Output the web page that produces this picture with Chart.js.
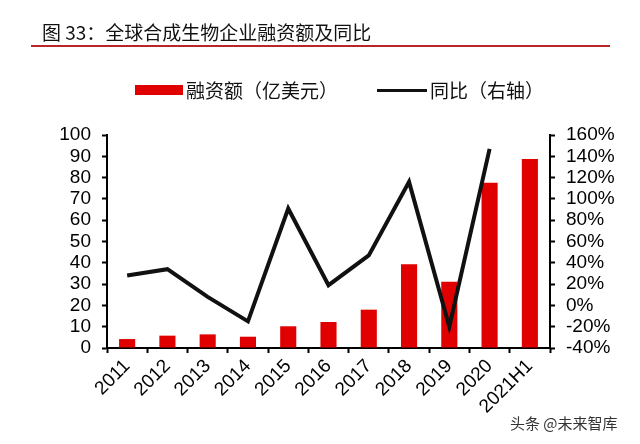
<!DOCTYPE html>
<html>
<head>
<meta charset="utf-8">
<script src="https://cdn.jsdelivr.net/npm/chart.js@4"></script>
<style>
  body { margin: 0; background: #fff; }
  #wrap { position: relative; width: 640px; height: 444px; overflow: hidden; }
  #myChart { position: absolute; left: 0; top: 0; }
  #title { position: absolute; left: 42px; top: 20px; font: 19px "Noto Sans CJK SC", sans-serif; color: #111; line-height: 24px; }
  #rule { position: absolute; left: 31px; top: 45px; width: 579px; height: 2px; background: #b8262b; }
  .leg { position: absolute; top: 78px; font: 19px "Noto Sans CJK SC", sans-serif; color: #111; line-height: 24px; }
  .swatch { position: absolute; }
  #mark { position: absolute; left: 510px; top: 412px; font: 15px "Noto Sans CJK SC", sans-serif; color: #333; }
</style>
</head>
<body>
<div id="wrap">
  <canvas id="myChart" width="640" height="444"></canvas>
  <div id="title">图 33：全球合成生物企业融资额及同比</div>
  <div id="rule"></div>
  <div class="swatch" style="left:135px;top:85px;width:48px;height:10px;background:#e00000"></div>
  <div class="leg" style="left:186px">融资额（亿美元）</div>
  <div class="swatch" style="left:377px;top:89px;width:50px;height:3px;background:#111"></div>
  <div class="leg" style="left:430px">同比（右轴）</div>
  <div id="mark">头条 @未来智库</div>
</div>
<script>
// values
const years = ['2011', '2012', '2013', '2014', '2015', '2016', '2017', '2018', '2019', '2020', '2021H1'];
const funding = [4.2, 5.8, 6.4, 5.3, 10.2, 12.2, 18, 39.3, 31.1, 77.6, 88.7];
const yoy = [28, 34, 8, -15, 91, 19, 47, 116, -20, 147, null];

const tickFont = { family: 'Liberation Sans, Arial, sans-serif', size: 19 };

const ctx = document.getElementById('myChart').getContext('2d');
const myChart = new Chart(ctx, {
    data: {
        labels: years,
        datasets: [{
            type: 'line',
            label: '同比（右轴）',
            data: yoy,
            yAxisID: 'y1',
            borderColor: '#111',
            borderWidth: 4,
            pointRadius: 0,
            tension: 0,
            order: 0
        }, {
            type: 'bar',
            label: '融资额（亿美元）',
            data: funding,
            yAxisID: 'y',
            backgroundColor: '#e00000',
            categoryPercentage: 0.8,
            barPercentage: 0.5,
            order: 1
        }]
    },
    options: {
        responsive: false,
        animation: false,
        layout: { padding: { top: 135, bottom: 0, left: 0, right: 0 } },
        plugins: {
            legend: { display: false },
            tooltip: { enabled: false }
        },
        scales: {
            x: {
                afterFit: function (scale) { scale.height = 96; },
                grid: { drawOnChartArea: false, tickLength: 5, tickWidth: 2, tickColor: '#000' },
                border: { color: '#000', width: 2 },
                ticks: { color: '#000', font: tickFont, minRotation: 45, maxRotation: 45, padding: 2, autoSkip: false }
            },
            y: {
                position: 'left',
                min: 0,
                max: 100,
                afterFit: function (scale) { scale.width = 107; },
                grid: { drawOnChartArea: false, tickLength: 5, tickWidth: 2, tickColor: '#000' },
                border: { color: '#000', width: 2 },
                ticks: { color: '#000', font: tickFont, stepSize: 10, padding: 11, autoSkip: false }
            },
            y1: {
                position: 'right',
                min: -40,
                max: 160,
                afterFit: function (scale) { scale.width = 90; },
                grid: { drawOnChartArea: false, tickLength: 5, tickWidth: 2, tickColor: '#000' },
                border: { color: '#000', width: 2 },
                ticks: {
                    color: '#000', font: tickFont, stepSize: 20, padding: 11, autoSkip: false,
                    callback: function (v) { return v + '%'; }
                }
            }
        }
    }
});
</script>
</body>
</html>
